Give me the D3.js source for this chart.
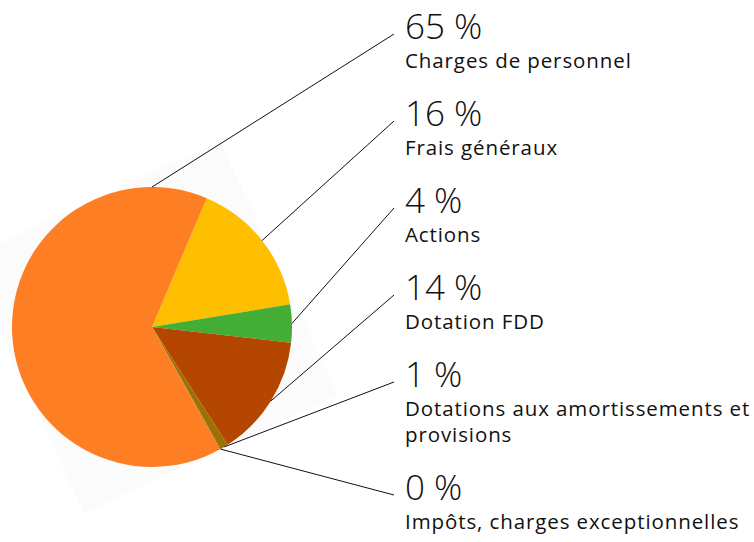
<!DOCTYPE html>
<html>
<head>
<meta charset="utf-8">
<script src="https://cdn.jsdelivr.net/npm/d3@7"></script>
<style>
  body { margin: 0; background: #fff; }
  svg { display: block; }
  text { font-family: "Open Sans", sans-serif; fill: #111; }
</style>
</head>
<body>
<div id="chart"></div>
<script>
// slices in drawing order (clockwise, starting at the yellow slice)
const labels = ["Frais généraux", "Actions", "Dotation FDD", "Dotations aux amortissements et|provisions", "Impôts, charges exceptionnelles", "Charges de personnel"];
const values = [16.1, 4.4, 14.2, 0.9, 0.1, 64.8];
const colors = ["#fdbf00", "#43ad35", "#b54600", "#9b7200", "#7a5a00", "#fd7e23"];
// order of the labels on the right, top to bottom
const labelOrder = [5, 0, 1, 2, 3, 4];

const width = 754, height = 542;
const cx = 152, cy = 327, radius = 140;
const startAngle = 23 * Math.PI / 180;

const svg = d3.select("#chart")
  .append("svg")
  .attr("width", width)
  .attr("height", height);

// faint backdrop square behind the pie
svg.append("rect")
  .attr("x", cx - radius)
  .attr("y", cy - radius)
  .attr("width", radius * 2)
  .attr("height", radius * 2)
  .attr("fill", "#fbfbfb")
  .attr("transform", `rotate(-25,${cx},${cy})`);

const pie = d3.pie()
  .sort(null)
  .value(d => d)
  .startAngle(startAngle)
  .endAngle(startAngle + 2 * Math.PI);

const arcs = pie(values);

const arc = d3.arc()
  .innerRadius(0)
  .outerRadius(radius);

const g = svg.append("g")
  .attr("transform", `translate(${cx},${cy})`);

g.selectAll("path")
  .data(arcs)
  .join("path")
  .attr("d", arc)
  .attr("fill", (d, i) => colors[i]);

// label block layout
const textX = 405, lineX = 394;
const pctSize = 35, labelSize = 20.5;
let y = 39;
const blocks = labelOrder.map(i => {
  const b = { i, base: y, lines: labels[i].split("|") };
  y += 29 + (b.lines.length - 1) * 26 + 58;
  return b;
});

const fmt = v => `${Math.round(v)} %`;

blocks.forEach(b => {
  const a = arcs[b.i];
  let mid = (a.startAngle + a.endAngle) / 2;
  // slice whose middle faces left gets its leader from the top of the pie
  if (Math.sin(mid) < 0) mid = 2 * Math.PI;
  const px = cx + radius * Math.sin(mid);
  const py = cy - radius * Math.cos(mid);

  svg.append("line")
    .attr("x1", px)
    .attr("y1", py)
    .attr("x2", lineX)
    .attr("y2", b.base - 5)
    .attr("stroke", "#111")
    .attr("stroke-width", 1);

  svg.append("text")
    .attr("x", textX)
    .attr("y", b.base)
    .style("font-size", pctSize + "px")
    .style("font-weight", 300)
    .text(fmt(values[b.i]));

  b.lines.forEach((t, k) => {
    svg.append("text")
      .attr("x", textX)
      .attr("y", b.base + 29 + k * 26)
      .style("font-size", labelSize + "px")
      .style("font-weight", 400)
      .style("letter-spacing", "0.9px")
      .text(t);
  });
});
</script>
</body>
</html>
